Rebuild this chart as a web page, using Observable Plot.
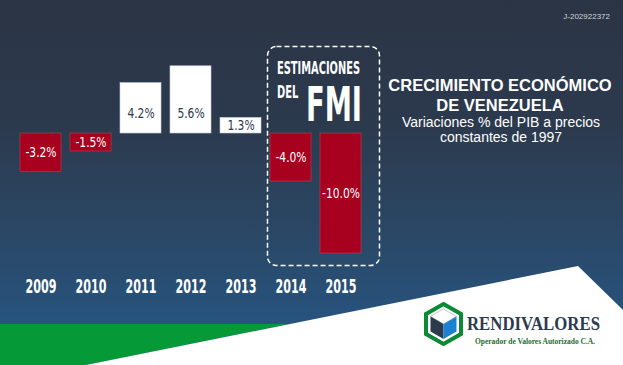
<!DOCTYPE html>
<html>
<head>
<meta charset="utf-8">
<script src="https://cdn.jsdelivr.net/npm/d3@7"></script>
<script src="https://cdn.jsdelivr.net/npm/@observablehq/plot@0.6"></script>
<style>
  html, body { margin: 0; padding: 0; }
  #chart {
    position: relative; width: 623px; height: 365px; overflow: hidden;
    background: linear-gradient(to bottom, #2b3444 0%, #2c3a4e 35%, #2a4866 65%, #275480 90%, #275480 100%);
    font-family: "Liberation Sans", Arial, sans-serif;
  }
  #chart svg { position: absolute; left: 0; top: 0; }
</style>
</head>
<body>
<div id="chart">
  <svg id="deco" width="623" height="365" viewBox="0 0 623 365">
    <polygon points="0,324 288,324 86,365 0,365" fill="#069937"/>
    <polygon points="86,365 578,266 623,310 623,365" fill="#ffffff"/>
    <rect x="267.5" y="46.5" width="112" height="219" rx="9" fill="none" stroke="#ffffff" stroke-width="1.5" stroke-dasharray="5 3"/>
    <g font-family="'DejaVu Sans Condensed','Liberation Sans Narrow','Liberation Sans',sans-serif" font-weight="bold" fill="#ffffff">
      <text x="277" y="73.5" font-size="17" textLength="83" lengthAdjust="spacingAndGlyphs">ESTIMACIONES</text>
      <text transform="translate(277,98) scale(0.65,1)" x="0" y="0" font-size="17">DEL</text>
      <text x="306" y="121" font-size="48" textLength="56" lengthAdjust="spacingAndGlyphs">FMI</text>
    </g>
    <g font-family="'Liberation Sans',Arial,sans-serif" fill="#ffffff" text-anchor="middle">
      <text x="500" y="91" font-size="16.5" font-weight="bold">CRECIMIENTO ECONÓMICO</text>
      <text x="500" y="111" font-size="16.5" font-weight="bold">DE VENEZUELA</text>
      <text x="501" y="127" font-size="14">Variaciones % del PIB a precios</text>
      <text x="501" y="142" font-size="14">constantes de 1997</text>
    </g>
    <text x="610" y="19" font-size="8" fill="#d0d4da" text-anchor="end" font-family="'Liberation Sans',Arial,sans-serif">J-202922372</text>
    <!-- logo -->
    <polygon points="443.5,304 461,314 461,334 443.5,344 426,334 426,314" fill="#ffffff" stroke="#0a8a34" stroke-width="4"/>
    <polygon points="443.5,309 456.5,316.5 443.5,324 430.5,316.5" fill="#ffffff" stroke="#9aa3ad" stroke-width="0.6"/>
    <polygon points="430.5,316.5 443.5,324 443.5,339 430.5,331.5" fill="#2c3a4e"/>
    <polygon points="443.5,324 456.5,316.5 456.5,331.5 443.5,339" fill="#1a80d0"/>
    <text x="467" y="330" font-size="18" font-weight="bold" fill="#2c3a4e" font-family="'Liberation Serif','DejaVu Serif',serif" textLength="133" lengthAdjust="spacingAndGlyphs">RENDIVALORES</text>
    <text x="475" y="344" font-size="8" font-weight="bold" fill="#1a6e2e" font-family="'Liberation Serif','DejaVu Serif',serif" textLength="120" lengthAdjust="spacingAndGlyphs">Operador de Valores Autorizado C.A.</text>
  </svg>
</div>
<script>
const years = ["2009", "2010", "2011", "2012", "2013", "2014", "2015"];
const growth = [-3.2, -1.5, 4.2, 5.6, 1.3, -4.0, -10.0];
const labels = ["-3.2%", "-1.5%", "4.2%", "5.6%", "1.3%", "-4.0%", "-10.0%"];

const data = years.map((year, i) => ({year, value: growth[i], label: labels[i]}));

const narrow = "'DejaVu Sans Condensed','Liberation Sans Narrow','Liberation Sans',sans-serif";

const plot = Plot.plot({
  width: 623,
  height: 365,
  marginTop: 0, marginLeft: 0, marginRight: 0,
  marginBottom: 86,
  style: {background: "transparent", overflow: "visible"},
  x: {domain: years, range: [20, 367], paddingInner: 0.174, paddingOuter: 0, align: 0, label: null},
  y: {domain: [-10, 10], range: [253, 13], axis: null},
  color: {type: "identity"},
  marks: [
    Plot.barY(data, {
      x: "year", y: "value",
      fill: d => d.value < 0 ? "#a8001f" : "#ffffff",
      stroke: d => d.value < 0 ? "#b8404f" : "#c9ced6",
      strokeWidth: 0.6
    }),
    Plot.text(data, {
      x: "year",
      y: d => d.value < 0 ? d.value / 2 : Math.min(d.value / 2, 1.65),
      text: "label",
      fill: d => d.value < 0 ? "#ffffff" : "#2c3a4e",
      fontSize: 14,
      fontFamily: narrow
    }),
    Plot.axisX({
      anchor: "bottom", tickSize: 0, tickPadding: 0, label: null,
      fill: "#ffffff", fontSize: 19, fontWeight: "bold", fontFamily: narrow
    })
  ]
});

document.getElementById("chart").appendChild(plot);
d3.select(plot).selectAll("g[aria-label='x-axis tick label'] text")
  .attr("textLength", 31).attr("lengthAdjust", "spacingAndGlyphs");
d3.select(plot).selectAll("g[aria-label='text'] text").each(function() {
  const len = this.getComputedTextLength();
  d3.select(this).attr("textLength", len * 0.85).attr("lengthAdjust", "spacingAndGlyphs");
});
</script>
</body>
</html>
